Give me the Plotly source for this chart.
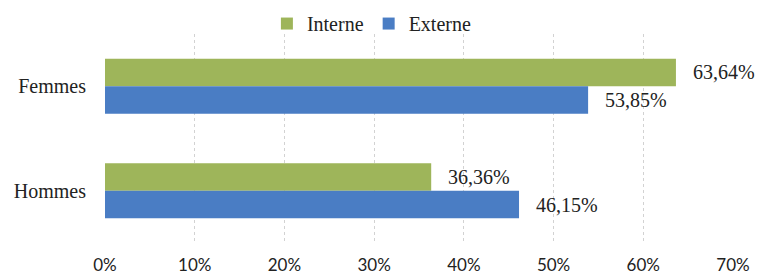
import plotly.graph_objects as go

categories = ["Femmes", "Hommes"]
interne = [63.64, 36.36]
externe = [53.85, 46.15]
interne_labels = ["63,64%", "36,36%"]
externe_labels = ["53,85%", "46,15%"]
x_ticks = [0, 10, 20, 30, 40, 50, 60, 70]
x_tick_labels = ["0%", "10%", "20%", "30%", "40%", "50%", "60%", "70%"]

GREEN = "#9EB55A"
BLUE = "#4A7DC4"
SERIF = "Liberation Serif"

fig = go.Figure()
fig.add_trace(go.Bar(y=categories, x=interne, orientation="h", name="Interne",
                     marker=dict(color=GREEN, line=dict(width=0))))
fig.add_trace(go.Bar(y=categories, x=externe, orientation="h", name="Externe",
                     marker=dict(color=BLUE, line=dict(width=0))))

# value labels to the right of each bar
for vals, labs, shift in ((interne, interne_labels, 14), (externe, externe_labels, -14)):
    for cat, v, lab in zip(categories, vals, labs):
        fig.add_annotation(x=v, y=cat, text=lab, showarrow=False, xanchor="left",
                           xshift=15, yshift=shift,
                           font=dict(family=SERIF, size=20, color="#222"))

fig.update_layout(
    width=757, height=277,
    margin=dict(l=105, r=24, t=34, b=34, autoexpand=False),
    paper_bgcolor="white", plot_bgcolor="white",
    barmode="group", bargap=0.476, bargroupgap=0,
    showlegend=True,
    legend=dict(orientation="h", x=0.425, xanchor="center", y=1.05, yanchor="middle",
                font=dict(family=SERIF, size=20, color="#222"),
                itemwidth=30, traceorder="normal", bgcolor="rgba(0,0,0,0)"),
    xaxis=dict(range=[0, 70], tickvals=x_ticks, ticktext=x_tick_labels,
               showgrid=True, gridcolor="#d2d2d2", griddash="dot", gridwidth=1,
               zeroline=False, showline=False, ticks="", automargin=False,
               ticklabelstandoff=10,
               tickfont=dict(family="Lato", size=17, color="#222")),
    yaxis=dict(autorange="reversed", showgrid=False, zeroline=False, showline=False,
               ticks="", ticklabelstandoff=18, automargin=False,
               tickfont=dict(family=SERIF, size=20, color="#222")),
)

fig.write_html("out.html", config={"displayModeBar": False},
               post_script="document.body.style.margin='0';")
